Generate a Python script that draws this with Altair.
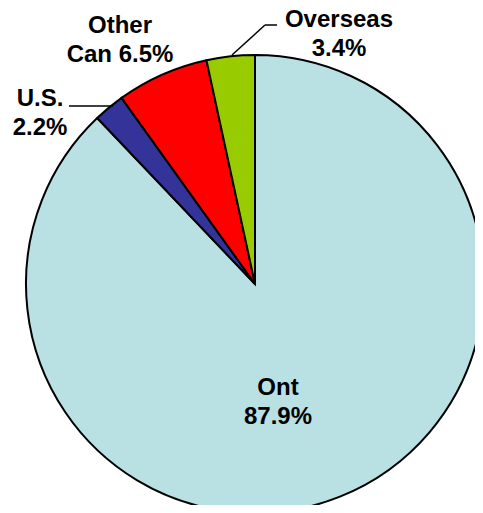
import altair as alt
import pandas as pd

categories = ["Ont", "U.S.", "Other Can", "Overseas"]
shares = [87.9, 2.2, 6.5, 3.4]
colors = ["#B9E0E3", "#333399", "#FF0000", "#99CC00"]

df = pd.DataFrame({"cat": categories, "share": shares, "idx": list(range(len(categories)))})

CX, CY, R = 247, 276, 229
FONT = "Liberation Sans"

pie = alt.Chart(df).mark_arc(stroke="black", strokeWidth=2, radius=R).encode(
    theta=alt.Theta("share:Q", stack=True),
    order=alt.Order("idx:Q"),
    color=alt.Color("cat:N", scale=alt.Scale(domain=categories, range=colors), legend=None),
    x=alt.value(CX),
    y=alt.value(CY),
)

def label(text, x, y):
    return alt.Chart(pd.DataFrame({"t": [text]})).mark_text(
        font=FONT, fontSize=24, fontWeight="bold", color="black",
        align="center", baseline="alphabetic", lineBreak="\n", lineHeight=29,
    ).encode(text="t:N", x=alt.value(x), y=alt.value(y))

def fmt(v):
    return f"{v:.1f}%"

labels = [
    label(f"{categories[0]}\n{fmt(shares[0])}", 270, 387),
    label(f"{categories[1]}\n{fmt(shares[1])}", 32, 98),
    label(f"Other\nCan {fmt(shares[2])}", 112, 25),
    label(f"{categories[3]}\n{fmt(shares[3])}", 331, 19),
]

def seg(x1, y1, x2, y2):
    return alt.Chart(pd.DataFrame({"a": [0]})).mark_rule(color="black", strokeWidth=1.5).encode(
        x=alt.value(x1), y=alt.value(y1), x2=alt.value(x2), y2=alt.value(y2)
    )

leaders = [
    seg(224, 47, 257, 17),
    seg(257, 17, 269, 17),
    seg(61, 98, 105, 98),
]

chart = alt.layer(pie, *leaders, *labels).properties(
    width=467, height=497, padding=0,
    autosize=alt.AutoSizeParams(type="none"),
).configure_view(stroke=None)

chart.save("out.html", embed_options={"renderer": "svg", "actions": False})
